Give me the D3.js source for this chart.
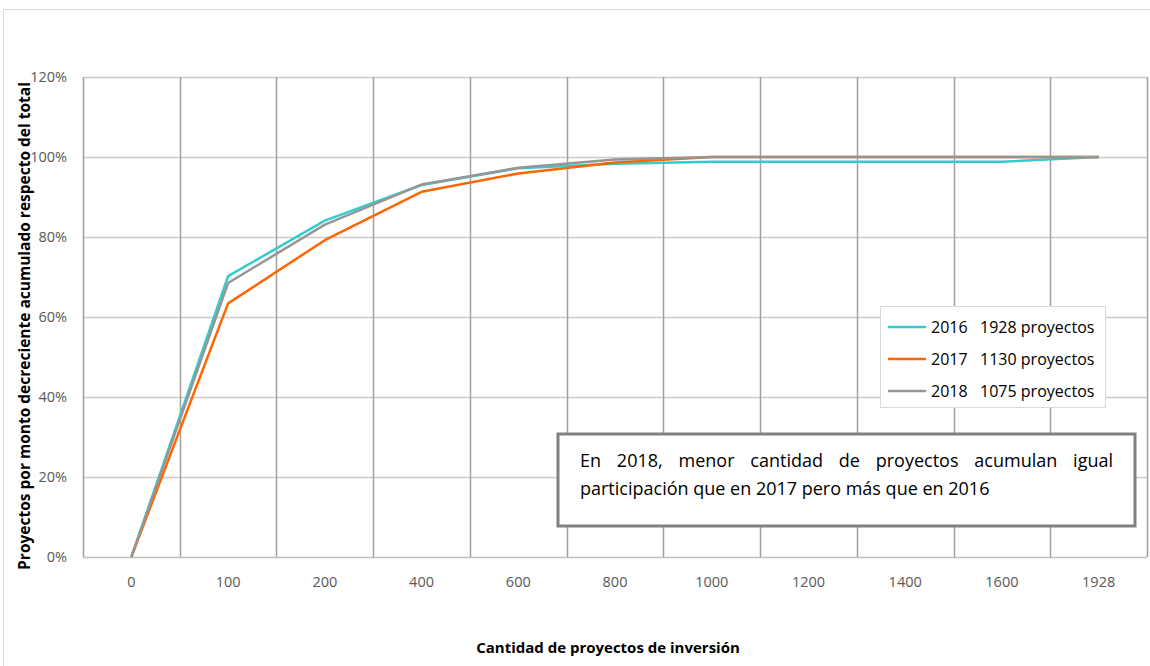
<!DOCTYPE html>
<html>
<head>
<meta charset="utf-8">
<script src="https://cdn.jsdelivr.net/npm/d3@7"></script>
<style>
  html, body { margin: 0; padding: 0; background: #fff; }
  svg { display: block; }
  text { font-family: "Open Sans", Lato, sans-serif; }
</style>
</head>
<body>
<svg id="chart" width="1150" height="666"></svg>
<script>
// ---- data ----
const categories = ["0", "100", "200", "400", "600", "800", "1000", "1200", "1400", "1600", "1928"];
const values2016 = [0, 70.2, 84.1, 93.0, 97.2, 98.3, 98.8, 98.8, 98.8, 98.8, 100];
const values2017 = [0, 63.4, 79.2, 91.3, 95.9, 98.6, 100, 100, 100, 100, 100];
const values2018 = [0, 68.5, 83.1, 93.1, 97.3, 99.4, 100, 100, 100, 100, 100];
const seriesNames = ["2016   1928 proyectos", "2017   1130 proyectos", "2018   1075 proyectos"];
const yTicks = [0, 20, 40, 60, 80, 100, 120];
const xTitle = "Cantidad de proyectos de inversión";
const yTitle = "Proyectos por monto decreciente acumulado respecto del total";
const noteLines = ["En 2018, menor cantidad de proyectos acumulan igual", "participación que en 2017 pero más que en 2016"];

const colors = ["#33CCCC", "#FF6600", "#969696"];
const series = [values2016, values2017, values2018].map((v, i) => ({ name: seriesNames[i], values: v, color: colors[i] }));

const svg = d3.select("#chart");
const plot = { left: 83, right: 1147, top: 77, bottom: 557 };

// outer chart border
svg.append("rect").attr("x", 3.5).attr("y", 9.5).attr("width", 1160).attr("height", 700)
  .attr("fill", "none").attr("stroke", "#d9d9d9").attr("stroke-width", 1);

const x = d3.scaleBand().domain(categories).range([plot.left, plot.right]).paddingInner(0).paddingOuter(0);
const y = d3.scaleLinear().domain([0, 120]).range([plot.bottom, plot.top]);

// horizontal gridlines
svg.append("g").selectAll("line").data(yTicks).join("line")
  .attr("x1", plot.left).attr("x2", plot.right)
  .attr("y1", d => Math.round(y(d)) + 0.5).attr("y2", d => Math.round(y(d)) + 0.5)
  .attr("stroke", d => d === 0 ? "#bfbfbf" : "#cccccc").attr("stroke-width", 1.5);

// vertical gridlines at band boundaries
const bounds = categories.map(c => x(c)).concat([x(categories[categories.length - 1]) + x.bandwidth()]);
svg.append("g").selectAll("line").data(bounds).join("line")
  .attr("x1", d => Math.round(d) + 0.5).attr("x2", d => Math.round(d) + 0.5)
  .attr("y1", plot.top).attr("y2", plot.bottom)
  .attr("stroke", "#a0a0a0").attr("stroke-width", 1.5);

// y axis labels
const yAxis = d3.axisLeft(y).tickValues(yTicks).tickFormat(d => d + "%").tickSize(0).tickPadding(16);
const gy = svg.append("g").attr("transform", `translate(${plot.left},0)`).call(yAxis);
gy.select(".domain").remove();
gy.attr("font-size", null).attr("font-family", null);
gy.selectAll("text").style("font-size", "14.5px").attr("fill", "#595959").style("font-family", "'Open Sans', sans-serif");

// x axis labels
const xAxis = d3.axisBottom(x).tickSize(0).tickPadding(20);
const gx = svg.append("g").attr("transform", `translate(0,${plot.bottom})`).call(xAxis);
gx.select(".domain").remove();
gx.attr("font-size", null).attr("font-family", null);
gx.selectAll("text").style("font-size", "14.5px").attr("fill", "#595959").style("font-family", "'Open Sans', sans-serif");

// lines
const line = d3.line()
  .x((d, i) => x(categories[i]) + x.bandwidth() / 2)
  .y(d => y(d));
svg.append("g").selectAll("path").data(series).join("path")
  .attr("d", d => line(d.values))
  .attr("fill", "none").attr("stroke", d => d.color).attr("stroke-width", 2.5)
  .attr("stroke-linejoin", "round");

// axis titles
svg.append("text").attr("x", 608).attr("y", 653)
  .attr("text-anchor", "middle").attr("font-size", 15).attr("font-weight", "bold").attr("fill", "#000")
  .text(xTitle);
svg.append("text").attr("transform", `translate(30,${326}) rotate(-90)`)
  .attr("text-anchor", "middle").attr("font-size", 15.5).attr("font-weight", "bold").attr("fill", "#000")
  .text(yTitle);

// legend
const legend = svg.append("g");
legend.append("rect").attr("x", 880.5).attr("y", 306.5).attr("width", 225).attr("height", 101)
  .attr("fill", "#fff").attr("stroke", "#d9d9d9").attr("stroke-width", 1);
const li = legend.selectAll("g.item").data(series).join("g").attr("class", "item")
  .attr("transform", (d, i) => `translate(888,${327 + i * 32})`);
li.append("line").attr("x1", 0).attr("x2", 38).attr("y1", 0).attr("y2", 0)
  .attr("stroke", d => d.color).attr("stroke-width", 2.5);
li.append("text").attr("x", 43).attr("y", 6).attr("font-size", 16).attr("fill", "#000")
  .attr("xml:space", "preserve").style("white-space", "pre")
  .text(d => d.name);

// annotation box
const note = svg.append("g");
note.append("rect").attr("x", 558).attr("y", 434).attr("width", 577).attr("height", 92)
  .attr("fill", "#fff").attr("stroke", "#808080").attr("stroke-width", 3);
const noteLeft = 580, noteRight = 1113, noteSize = 18;
// first line justified
const words = noteLines[0].split(" ");
const tmp = note.append("g");
const widths = words.map(w => {
  const t = tmp.append("text").attr("font-size", noteSize).text(w);
  const wd = t.node().getComputedTextLength();
  t.remove();
  return wd;
});
tmp.remove();
const totalW = d3.sum(widths);
const gap = (noteRight - noteLeft - totalW) / (words.length - 1);
let cx = noteLeft;
words.forEach((w, i) => {
  note.append("text").attr("x", cx).attr("y", 467).attr("font-size", noteSize).attr("fill", "#000").text(w);
  cx += widths[i] + gap;
});
note.append("text").attr("x", noteLeft).attr("y", 495).attr("font-size", noteSize).attr("fill", "#000")
  .text(noteLines[1]);
</script>
</body>
</html>
